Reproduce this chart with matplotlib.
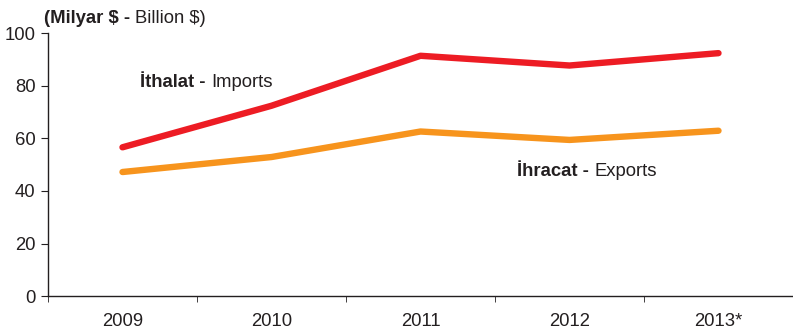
"""Turkey trade chart: imports vs exports"""

import matplotlib
matplotlib.use('Agg')
import matplotlib.pyplot as plt
import numpy as np

years = ['2009', '2010', '2011', '2012', '2013*']
imports = [56.6, 72.4, 91.4, 87.7, 92.4]
exports = [47.2, 52.9, 62.6, 59.4, 62.9]

plt.rcParams['font.family'] = ['Liberation Sans', 'DejaVu Sans']
DARK = '#231F20'
FS = 13.3


def mixed_label(fig, ax, xv, yv, bold, normal, va='center'):
    """Bold part followed by a regular part"""
    a = ax.text(xv, yv, bold, fontsize=FS, fontweight='bold',
                color=DARK, va=va, ha='left')
    fig.canvas.draw()
    b = a.get_window_extent()
    ypix = b.y0 if va == 'bottom' else (b.y0 + b.y1) / 2
    fig.text(b.x1 / fig.bbox.width, ypix / fig.bbox.height, normal,
             fontsize=FS, color=DARK, va=va, ha='left')


def plot_trade():
    fig = plt.figure(figsize=(7.93, 3.35), dpi=100)
    ax = fig.add_axes([0.0605, 0.116, 0.9395, 0.785])
    x = np.arange(len(years))
    ax.plot(x, imports, color='#ED1C24', linewidth=4.6, solid_capstyle='round')
    ax.plot(x, exports, color='#F7941D', linewidth=4.6, solid_capstyle='round')

    ax.set_xlim(-0.5, 4.47)
    ax.set_ylim(0, 100)
    ax.set_yticks([0, 20, 40, 60, 80, 100])
    ax.set_xticks(x)
    ax.set_xticklabels(years)
    ax.set_xticks(np.arange(-0.5, 4.6, 1), minor=True)
    ax.tick_params(axis='x', which='major', length=0, pad=12, labelsize=FS, colors=DARK)
    ax.tick_params(axis='x', which='minor', length=4, direction='out', color=DARK)
    ax.tick_params(axis='y', length=5, direction='out', labelsize=FS, colors=DARK, pad=4)

    for s in ['top', 'right']:
        ax.spines[s].set_visible(False)
    for s in ['left', 'bottom']:
        ax.spines[s].set_color(DARK)
        ax.spines[s].set_linewidth(1)

    mixed_label(fig, ax, -0.53, 102.5, '(Milyar $ - ', 'Billion $)', va='bottom')
    mixed_label(fig, ax, 0.12, 81.3, 'İthalat - ', 'Imports')
    mixed_label(fig, ax, 2.65, 47.3, 'İhracat - ', 'Exports')

    plt.savefig('out.png', dpi=100)


if __name__ == "__main__":
    plot_trade()
